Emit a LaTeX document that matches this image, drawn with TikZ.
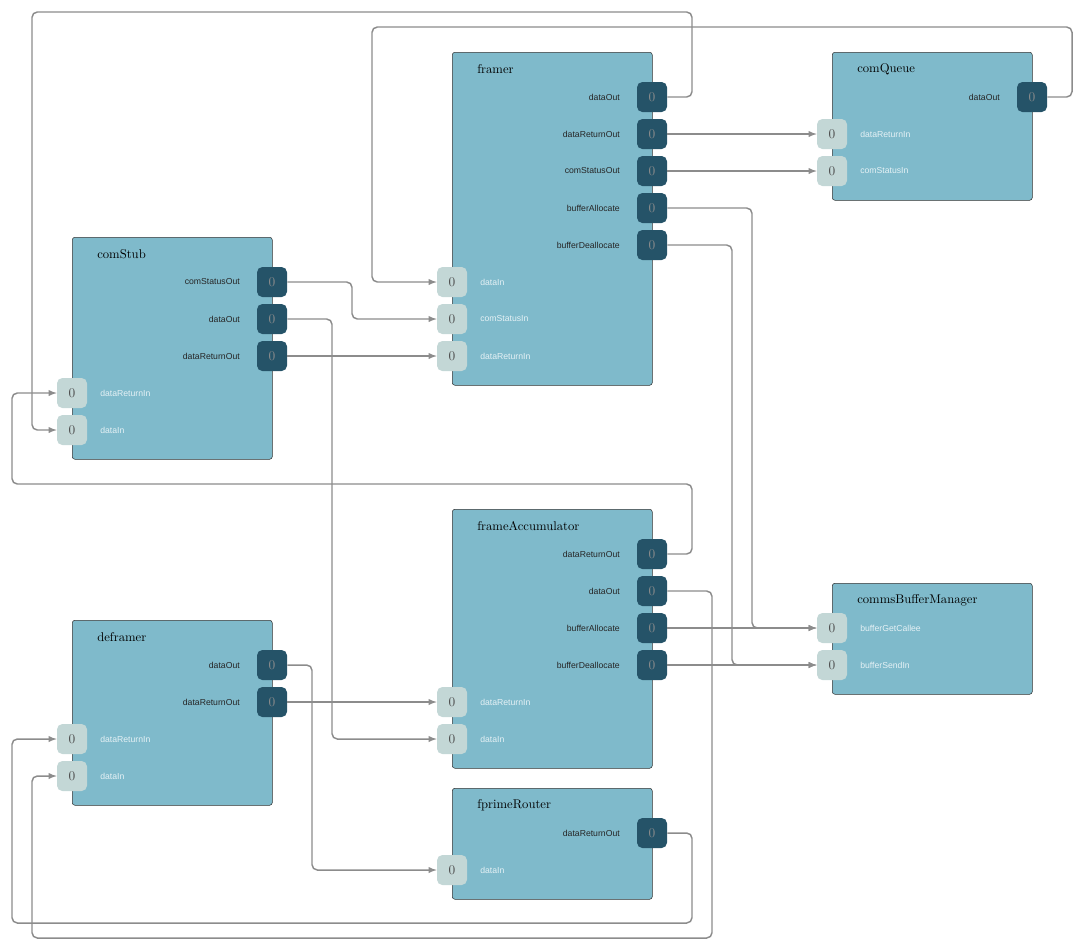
\documentclass[tikz,border=0pt]{standalone}
\usepackage{fontspec}
\newfontfamily\portfont{Liberation Sans}
\begin{document}
\begin{tikzpicture}[x=0.75pt,y=-0.75pt]

\definecolor{boxfill}{HTML}{7FBACB}
\definecolor{outfill}{HTML}{255368}
\definecolor{infill}{HTML}{C3D7D6}
\definecolor{wirecol}{HTML}{8C8C8C}
\tikzset{comp/.style={draw=black!80,fill=boxfill,rounded corners=2pt,anchor=north west,inner sep=0pt},}
\tikzset{ctitle/.style={anchor=west,inner sep=0pt,font=\fontsize{9.5}{10}\selectfont},}
\tikzset{outp/.style={fill=outfill,rounded corners=4pt,minimum size=22.5pt,inner sep=0pt,text=black!45,font=\fontsize{10}{10}\selectfont},}
\tikzset{inp/.style={fill=infill,rounded corners=4pt,minimum size=22.5pt,inner sep=0pt,text=black!70,font=\fontsize{10}{10}\selectfont},}
\tikzset{olab/.style={anchor=east,inner sep=0pt,text=black!85,font=\portfont\fontsize{6.5}{7}\selectfont},}
\tikzset{ilab/.style={anchor=west,inner sep=0pt,text=white!80!boxfill,font=\portfont\fontsize{6.5}{7}\selectfont},}
\tikzset{wire/.style={draw=wirecol,line width=1.1pt,rounded corners=4pt,-latex},}

\newcommand\outport[4]{\node[outp] (#1) at (#2,#3) {0}; \node[olab] (#1-l) at (#2-32,#3) {#4};}
\newcommand\inport[4]{\node[inp] (#1) at (#2,#3) {0}; \node[ilab] (#1-l) at (#2+28,#3) {#4};}

\useasboundingbox (0,0) rectangle (1084,951);

% components
\node[comp,minimum width=150pt,minimum height=249.75pt] (framer) at (452,52) {};
\node[ctitle] (framer-t) at (477,69) {framer};
\node[comp,minimum width=150pt,minimum height=111pt] (comQueue) at (832,52) {};
\node[ctitle] (comQueue-t) at (857,69) {comQueue};
\node[comp,minimum width=150pt,minimum height=166.5pt] (comStub) at (72,237) {};
\node[ctitle] (comStub-t) at (97,254) {comStub};
\node[comp,minimum width=150pt,minimum height=194.25pt] (frameAccumulator) at (452,509) {};
\node[ctitle] (frameAccumulator-t) at (477,526) {frameAccumulator};
\node[comp,minimum width=150pt,minimum height=83.25pt] (commsBufferManager) at (832,583) {};
\node[ctitle] (commsBufferManager-t) at (857,600) {commsBufferManager};
\node[comp,minimum width=150pt,minimum height=138.75pt] (deframer) at (72,620) {};
\node[ctitle] (deframer-t) at (97,637) {deframer};
\node[comp,minimum width=150pt,minimum height=83.25pt] (fprimeRouter) at (452,788) {};
\node[ctitle] (fprimeRouter-t) at (477,805) {fprimeRouter};

% ports
\outport{frDataOut}{652}{97}{dataOut}
\outport{frDataReturnOut}{652}{134}{dataReturnOut}
\outport{frComStatusOut}{652}{171}{comStatusOut}
\outport{frBufferAllocate}{652}{208}{bufferAllocate}
\outport{frBufferDeallocate}{652}{245}{bufferDeallocate}
\inport{frDataIn}{452}{282}{dataIn}
\inport{frComStatusIn}{452}{319}{comStatusIn}
\inport{frDataReturnIn}{452}{356}{dataReturnIn}

\outport{cqDataOut}{1032}{97}{dataOut}
\inport{cqDataReturnIn}{832}{134}{dataReturnIn}
\inport{cqComStatusIn}{832}{171}{comStatusIn}

\outport{csComStatusOut}{272}{282}{comStatusOut}
\outport{csDataOut}{272}{319}{dataOut}
\outport{csDataReturnOut}{272}{356}{dataReturnOut}
\inport{csDataReturnIn}{72}{393}{dataReturnIn}
\inport{csDataIn}{72}{430}{dataIn}

\outport{faDataReturnOut}{652}{554}{dataReturnOut}
\outport{faDataOut}{652}{591}{dataOut}
\outport{faBufferAllocate}{652}{628}{bufferAllocate}
\outport{faBufferDeallocate}{652}{665}{bufferDeallocate}
\inport{faDataReturnIn}{452}{702}{dataReturnIn}
\inport{faDataIn}{452}{739}{dataIn}

\inport{bmBufferGetCallee}{832}{628}{bufferGetCallee}
\inport{bmBufferSendIn}{832}{665}{bufferSendIn}

\outport{dfDataOut}{272}{665}{dataOut}
\outport{dfDataReturnOut}{272}{702}{dataReturnOut}
\inport{dfDataReturnIn}{72}{739}{dataReturnIn}
\inport{dfDataIn}{72}{776}{dataIn}

\outport{rtDataReturnOut}{652}{833}{dataReturnOut}
\inport{rtDataIn}{452}{870}{dataIn}

% connections
\draw[wire] (frDataOut.east) -- (692,97) -- (692,12) -- (32,12) |- (csDataIn.west);
\draw[wire] (frDataReturnOut.east) -- (cqDataReturnIn.west);
\draw[wire] (frComStatusOut.east) -- (cqComStatusIn.west);
\draw[wire] (frBufferAllocate.east) -- (752,208) |- (bmBufferGetCallee.west);
\draw[wire] (frBufferDeallocate.east) -- (732,245) |- (bmBufferSendIn.west);
\draw[wire] (cqDataOut.east) -- (1072,97) -- (1072,27) -- (372,27) |- (frDataIn.west);
\draw[wire] (csComStatusOut.east) -- (352,282) |- (frComStatusIn.west);
\draw[wire] (csDataOut.east) -- (332,319) |- (faDataIn.west);
\draw[wire] (csDataReturnOut.east) -- (frDataReturnIn.west);
\draw[wire] (faDataReturnOut.east) -- (692,554) -- (692,484) -- (12,484) |- (csDataReturnIn.west);
\draw[wire] (faDataOut.east) -- (712,591) -- (712,938) -- (32,938) |- (dfDataIn.west);
\draw[wire] (faBufferAllocate.east) -- (bmBufferGetCallee.west);
\draw[wire] (faBufferDeallocate.east) -- (bmBufferSendIn.west);
\draw[wire] (dfDataOut.east) -- (312,665) |- (rtDataIn.west);
\draw[wire] (dfDataReturnOut.east) -- (faDataReturnIn.west);
\draw[wire] (rtDataReturnOut.east) -- (692,833) -- (692,923) -- (12,923) |- (dfDataReturnIn.west);

\end{tikzpicture}
\end{document}
